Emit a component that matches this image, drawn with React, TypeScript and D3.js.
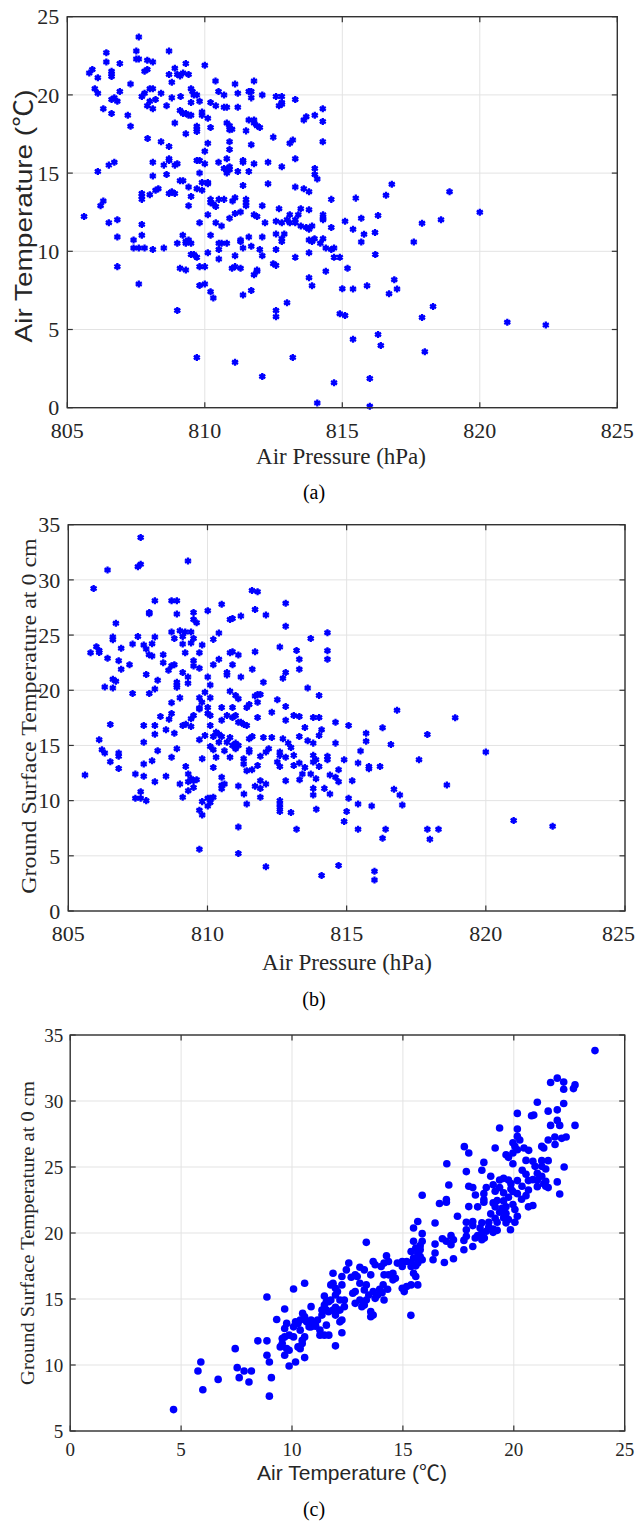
import React from 'react';
import * as d3 from 'd3';

// ---------- DATA ----------
// Panel (a): [air pressure (hPa), air temperature (°C)]
const panelAPoints: [number, number][] = [
  [807.60,23.70],[806.42,22.70],[807.51,22.81],[808.70,22.81],[806.42,22.11],[807.51,22.30],[807.60,22.30],[807.91,22.21],[808.11,22.11],[806.91,22.00],[810.00,21.89],[809.31,22.00],[805.91,21.62],[805.80,21.40],[806.61,21.51],[806.61,21.34],[806.61,21.17],[806.11,21.10],[807.81,21.51],[807.91,21.62],[808.91,21.70],[808.70,21.30],[809.00,21.30],[809.10,21.21],[809.21,21.40],[809.41,21.30],[808.80,20.81],[807.30,20.70],[810.39,20.89],[811.10,20.70],[811.79,20.89],[806.00,20.40],[806.11,20.11],[806.91,20.21],[808.00,20.40],[808.11,20.40],[807.71,19.89],[807.81,20.11],[808.41,20.11],[809.50,20.40],[809.55,20.21],[809.60,20.00],[809.71,20.00],[809.12,19.89],[808.80,19.81],[810.50,20.21],[810.70,20.00],[811.20,20.11],[811.60,20.21],[811.69,20.21],[811.69,19.81],[812.09,20.00],[812.59,19.89],[812.80,19.89],[812.80,19.51],[812.70,19.30],[812.80,19.40],[813.29,19.70],[806.61,19.70],[806.71,19.81],[806.82,19.60],[808.00,19.60],[808.21,19.70],[807.91,19.30],[808.11,19.11],[806.31,19.11],[806.61,18.81],[807.20,18.70],[808.61,19.30],[809.50,19.51],[809.81,19.60],[810.21,19.51],[810.40,19.30],[810.70,19.21],[810.80,19.21],[811.20,19.21],[809.10,19.00],[809.21,18.81],[809.31,18.81],[809.41,18.70],[809.50,18.70],[809.90,18.91],[809.90,18.70],[810.11,18.51],[807.30,18.00],[808.91,18.21],[809.71,18.00],[809.71,17.81],[809.71,17.66],[810.21,17.91],[810.80,18.21],[810.90,18.02],[810.99,17.81],[810.90,17.77],[811.60,18.40],[811.79,18.40],[811.79,18.21],[811.90,18.02],[812.00,17.91],[811.50,17.70],[809.31,17.51],[807.92,17.21],[808.41,17.00],[808.70,16.70],[810.11,16.91],[810.00,16.40],[810.90,17.00],[810.90,16.51],[811.69,16.81],[812.49,17.30],[813.09,16.91],[813.20,17.11],[813.60,18.40],[813.69,18.60],[814.00,18.70],[814.29,19.11],[814.29,18.30],[814.29,17.00],[813.29,15.91],[812.80,15.40],[812.30,15.70],[811.79,15.60],[811.39,15.81],[811.39,15.70],[810.80,15.91],[810.90,15.40],[810.80,15.21],[810.80,15.00],[810.70,15.30],[810.90,15.21],[810.50,15.70],[811.20,15.11],[811.60,15.11],[809.71,15.81],[809.81,15.81],[810.00,15.60],[809.81,15.00],[808.70,15.91],[808.70,15.81],[808.91,15.51],[809.00,15.60],[808.51,15.51],[808.61,14.91],[808.11,15.70],[808.11,14.81],[806.11,15.11],[806.51,15.51],[806.71,15.70],[814.00,15.30],[814.00,14.91],[814.09,14.62],[813.29,14.11],[813.60,14.00],[813.79,13.81],[814.60,13.32],[812.30,14.32],[811.39,14.21],[809.10,14.51],[809.21,14.51],[809.41,14.11],[809.50,13.51],[809.71,14.00],[809.90,13.91],[809.90,14.40],[810.11,14.32],[810.11,14.40],[808.21,13.91],[808.31,14.00],[808.00,13.62],[807.71,13.70],[807.71,13.51],[807.71,13.32],[808.70,13.70],[808.80,13.81],[808.91,13.70],[806.31,13.21],[806.21,12.91],[809.41,12.91],[810.21,13.32],[810.21,13.11],[810.31,13.02],[810.40,12.87],[810.51,13.32],[810.70,13.32],[811.01,13.21],[811.10,13.43],[811.50,13.32],[811.50,13.11],[811.50,12.91],[812.09,12.91],[812.70,12.72],[813.49,12.72],[813.79,12.66],
  [805.61,12.22],[806.51,11.82],[806.82,12.01],[806.82,10.92],[807.71,11.71],[807.71,11.03],[807.41,10.73],[807.41,10.21],[807.60,10.21],[807.81,10.21],[808.11,10.11],[808.51,10.21],[806.82,9.02],[807.60,7.91],[809.00,10.51],[809.20,11.03],[809.31,10.62],[809.41,10.73],[809.50,10.51],[809.31,10.51],[809.81,11.82],[809.50,9.80],[809.60,9.80],[809.71,9.62],[809.10,8.91],[809.31,8.80],[809.81,9.02],[810.00,9.02],[809.81,7.82],[810.00,7.91],[809.00,6.22],[810.11,9.91],[810.11,12.33],[810.21,11.03],[810.40,11.82],[810.61,11.62],[810.51,10.51],[810.61,10.51],[810.80,10.51],[810.51,10.11],[810.51,9.51],[810.90,12.12],[811.10,12.41],[811.30,12.52],[811.10,9.72],[811.30,10.73],[811.30,10.62],[811.39,10.21],[811.60,10.92],[811.69,10.32],[810.99,8.91],[811.10,9.02],[811.30,8.91],[810.21,7.41],[810.31,7.01],[811.39,7.20],[811.69,7.50],[811.79,12.33],[811.90,12.22],[812.19,11.82],[812.09,10.92],[812.00,10.11],[812.09,9.72],[811.90,8.80],[811.90,8.72],[811.79,8.50],[812.49,9.21],[812.59,9.10],[812.59,11.11],[812.59,10.11],[812.59,11.92],[812.80,11.82],[812.89,11.11],[812.80,10.81],[812.80,10.62],[813.09,12.33],[813.09,11.82],[812.99,12.01],[813.29,12.01],[813.29,11.82],[813.40,12.33],[813.49,11.62],[813.69,11.52],[813.79,11.41],[813.90,11.62],[813.29,9.62],[812.99,6.71],[812.59,6.22],[812.59,5.81],[813.79,10.73],[813.90,10.62],[813.99,10.81],[813.79,9.91],[814.20,10.51],[814.30,10.81],[813.79,8.31],[813.90,7.80],[814.30,12.33],[814.30,12.12],[814.30,12.01],[814.60,11.52],[814.40,10.21],[814.60,10.11],[814.70,10.21],[814.70,9.62],[814.91,9.62],[814.40,8.72],[815.00,7.61],[814.91,6.00],[815.10,5.90],[815.10,11.92],[815.19,8.91],[809.71,3.21],[811.10,2.91],[812.09,1.99],[813.20,3.21],[814.70,1.60],[814.09,0.30],
  [816.80,14.29],[816.59,13.59],[815.49,13.40],[818.90,13.80],[820.00,12.50],[815.69,12.12],[816.30,12.29],[815.39,11.41],[815.79,11.09],[816.19,11.20],[815.69,10.60],[817.60,10.60],[817.90,11.79],[818.59,12.01],[816.20,9.79],[815.39,7.59],[815.90,7.80],[816.89,8.18],[816.99,7.59],[816.70,7.29],[818.30,6.47],[817.90,5.77],[821.00,5.47],[822.40,5.28],[815.39,4.38],[816.30,4.68],[816.40,3.97],[818.00,3.57],[816.00,1.86],[816.00,0.09]
];

// Panel (b): [air pressure (hPa), ground surface temperature at 0 cm (°C)]
const panelBPoints: [number, number][] = [
  [807.60,33.83],[809.30,31.72],[807.50,31.20],[807.60,31.42],[806.41,30.90],[805.91,29.22],[808.11,28.10],[808.71,28.10],[808.90,28.10],[807.91,27.05],[807.91,26.93],[808.90,26.90],[809.50,27.05],[809.50,26.42],[809.61,26.11],[810.01,27.20],[810.51,27.80],[810.81,26.42],[810.90,26.51],[811.20,26.72],[811.60,29.04],[811.80,28.92],[811.71,27.32],[812.10,26.81],[812.81,27.89],[812.81,25.81],[813.71,24.70],[814.31,25.21],[814.31,23.58],[814.31,22.80],[806.71,26.08],[806.60,24.82],[806.60,24.58],[806.01,23.95],[806.11,23.61],[806.11,23.43],[805.80,23.40],[806.90,23.80],[806.41,22.89],[806.81,22.68],[806.90,21.90],[807.20,22.32],[807.31,24.19],[807.50,24.88],[807.71,24.10],[807.80,23.73],[808.01,24.22],[808.11,24.82],[807.90,23.22],[808.01,23.10],[808.41,23.22],[808.71,25.27],[808.81,24.70],[809.01,25.39],[809.11,24.88],[809.20,25.27],[809.41,25.27],[809.11,24.19],[809.41,24.28],[809.50,24.70],[809.81,24.10],[809.20,23.40],[809.71,23.40],[808.41,22.50],[808.71,22.23],[808.81,22.32],[808.60,21.81],[809.50,22.68],[809.50,22.20],[809.71,21.99],[807.80,21.42],[808.21,20.90],[809.11,21.60],[809.30,21.20],[809.30,20.63],[808.90,20.72],[808.90,20.45],[808.90,20.27],[810.01,21.20],[810.21,24.61],[810.41,25.18],[810.81,23.40],[810.90,23.49],[811.11,23.19],[811.71,23.49],[810.41,22.80],[810.21,22.32],[810.90,22.32],[810.70,21.60],[810.70,21.39],[811.20,21.20],[811.61,21.90],[812.60,23.92],[813.20,23.61],[813.30,22.80],[813.30,21.90],[812.81,21.60],[812.71,21.08],[812.01,20.72],[810.10,20.48],[806.31,20.30],[806.60,20.21],[806.60,20.99],[806.71,20.81],[807.31,19.70],[807.91,19.70],[808.11,20.12],[808.71,18.86],[809.01,19.31],[809.71,19.31],[809.80,18.92],[810.10,19.31],[809.91,19.82],[810.81,19.91],[811.01,19.52],[811.11,19.22],[811.41,18.43],[811.50,18.70],[811.71,19.49],[811.80,19.61],[811.90,19.61],[811.80,18.92],[812.51,19.13],[813.60,20.21],[814.01,19.52],[812.81,18.52],[809.71,18.40],[810.01,18.43],[810.51,18.43],[810.90,18.43],
  [808.31,17.62],[808.62,17.38],[808.71,17.89],[808.11,16.81],[808.11,16.02],[807.71,16.81],[807.71,15.30],[806.51,16.90],[806.11,15.51],[806.21,14.61],[806.31,14.31],[806.81,14.31],[806.81,14.01],[806.51,13.52],[806.81,12.92],[805.60,12.32],[808.51,16.42],[808.81,16.11],[808.21,14.52],[808.01,13.61],[807.71,13.31],[807.41,12.41],[807.71,12.20],[808.11,11.72],[808.51,12.20],[807.60,10.81],[807.41,10.21],[807.60,10.21],[807.80,10.00],[809.11,16.81],[809.22,16.93],[809.41,16.72],[809.41,17.41],[809.50,17.71],[809.71,18.31],[809.71,15.51],[809.81,13.80],[808.71,13.92],[808.90,14.70],[809.22,13.10],[809.31,12.41],[809.31,11.72],[809.01,11.51],[809.41,11.99],[809.50,11.81],[809.61,11.90],[809.50,11.20],[809.31,10.90],[809.11,10.30],[809.71,9.13],[809.81,8.70],[809.81,9.91],[810.01,10.21],[810.10,10.21],[810.21,10.30],[810.01,9.52],[810.10,9.82],[809.71,5.60],[810.01,17.89],[810.10,17.71],[809.91,15.90],[810.10,16.81],[810.21,15.81],[810.31,16.20],[810.41,16.02],[810.51,15.81],[810.41,15.30],[810.10,14.91],[810.21,14.61],[810.31,13.92],[810.21,13.01],[810.51,17.29],[810.70,17.71],[810.90,17.53],[811.01,17.71],[810.70,15.30],[810.81,15.72],[810.90,15.00],[811.01,15.21],[811.11,15.00],[811.01,14.70],[810.61,14.52],[810.81,13.92],[810.51,12.11],[810.51,11.39],[810.51,11.08],[810.61,11.51],[811.11,17.11],[811.20,17.11],[811.31,16.90],[811.41,16.81],[811.80,17.53],[811.30,13.80],[811.30,13.31],[811.41,12.71],[811.50,14.61],[811.50,14.40],[811.50,15.60],[811.61,15.81],[811.60,12.80],[811.80,13.19],[811.90,14.01],[812.01,15.72],[812.31,15.72],[812.10,14.40],[812.20,14.70],[812.31,18.01],[812.51,13.49],[812.60,13.10],[812.60,14.40],[812.60,14.10],[812.71,15.60],[812.81,13.92],[812.90,15.21],[813.00,14.82],[812.81,17.29],[813.10,17.71],[813.30,17.62],[813.50,16.63],[813.30,15.81],[813.60,15.42],[813.80,15.21],[813.80,17.53],[814.01,17.53],[814.10,16.42],[814.01,15.90],[814.60,17.11],[814.60,15.21],[815.07,16.81],[813.10,14.10],[813.10,13.19],[813.30,13.40],[813.41,12.41],[813.50,13.01],[813.71,12.41],[813.80,14.10],[813.90,13.70],[813.80,13.49],[814.01,13.10],[814.31,14.01],[814.31,13.70],[813.90,11.99],[813.31,11.90],[812.81,11.81],[814.40,12.32],[814.60,12.11],[814.71,11.72],[814.71,12.80],[814.91,13.70],[813.80,11.11],[813.80,10.51],[814.20,11.11],[814.40,10.60],[811.90,11.81],[811.71,11.30],[811.90,11.11],[812.10,11.51],[811.31,10.60],[811.90,10.30],[811.41,9.70],[811.11,11.33],[812.60,10.00],[812.60,9.70],[812.60,9.40],[812.60,9.01],[813.00,8.92],[813.91,9.22],[811.11,7.62],[813.20,7.41],[815.07,10.21],[815.00,9.01],[814.91,8.10],[811.11,5.21],[812.10,4.01],[814.10,3.22],[814.71,4.13],
  [816.81,18.19],[818.90,17.50],[816.29,16.60],[815.70,16.11],[815.70,15.39],[817.90,15.99],[816.59,15.09],[815.50,14.49],[820.00,14.40],[815.41,13.40],[815.80,13.10],[815.80,12.89],[816.20,13.10],[817.60,13.70],[815.20,11.81],[816.70,11.02],[816.91,10.51],[817.00,9.61],[818.60,11.42],[815.41,9.70],[815.90,9.52],[815.41,7.41],[816.40,7.41],[816.29,6.60],[817.90,7.41],[818.30,7.41],[817.99,6.51],[821.00,8.19],[822.40,7.68],[816.00,3.61],[816.00,2.80]
];

// Panel (c): [air temperature (°C), ground surface temperature at 0 cm (°C)]
const panelCPoints: [number, number][] = [
  [23.66,33.82],[21.66,31.40],[21.96,31.73],[22.25,31.43],[22.25,30.89],[22.69,30.94],[22.76,31.22],[21.06,29.91],[21.55,29.23],[21.96,29.33],[22.25,29.81],[20.90,28.93],[20.80,28.88],[20.16,29.06],[21.66,28.15],[21.96,28.53],[22.07,28.15],[22.76,28.15],[20.16,27.87],[20.16,27.32],[19.36,27.95],[21.55,27.04],[21.85,27.27],[22.16,27.17],[21.86,26.71],[22.36,27.27],[19.96,26.84],[20.05,26.56],[20.27,27.04],[20.16,26.31],[19.96,26.06],[20.67,26.26],[20.46,26.44],[21.26,26.56],[21.35,26.44],[19.16,26.44],[17.77,26.54],[17.97,26.06],[19.76,25.73],[19.65,25.93],[18.65,25.35],[16.98,25.25],[19.96,25.25],[20.55,25.50],[20.86,25.43],[21.26,25.48],[21.55,25.48],[20.96,25.05],[21.26,25.05],[21.44,24.85],[21.06,24.52],[20.38,24.75],[20.55,24.45],[22.27,25.00],[18.56,24.75],[17.86,24.65],[21.26,24.30],[21.44,23.92],[19.54,24.14],[19.76,24.02],[19.36,24.02],[18.96,24.30],[20.16,23.97],[19.87,23.74],[20.37,23.54],[20.66,23.97],[20.86,24.04],[21.06,24.02],[21.96,23.87],[21.35,23.74],[21.06,23.51],[21.44,23.54],[21.55,23.44],[19.07,23.66],[19.36,23.44],[19.16,23.16],[17.97,23.54],[18.15,23.44],[18.76,23.44],[17.07,23.64],[22.07,22.96],[20.66,23.26],[20.55,22.83],[20.16,22.98],[19.87,23.34],[19.96,23.14],[18.27,22.88],[18.65,22.98],[19.54,23.04],[19.76,22.71],[20.35,22.56],[15.87,22.86],[16.96,22.53],[16.96,22.33],[16.65,22.23],[17.97,22.00],[18.37,21.98],[18.65,22.33],[18.65,22.53],[19.07,22.28],[19.25,22.46],[19.54,22.43],[19.16,21.98],[19.47,21.88],[19.65,21.98],[19.96,22.15],[20.05,21.78],[20.66,21.98],[20.86,22.08],[19.36,21.57],[19.65,21.47],[18.96,21.45],[17.46,21.27],[15.67,20.87],[17.86,20.82],[18.15,20.87],[18.56,20.77],[18.87,20.82],[19.76,21.02],[20.16,21.27],[20.05,20.82],[19.16,21.12],[19.54,21.15],[19.25,20.82],[19.65,20.77],
  [16.45,20.76],[15.48,20.38],[15.87,19.95],[17.86,20.25],[18.15,20.56],[18.48,20.38],[18.87,20.46],[19.25,20.20],[19.85,20.25],[17.86,19.75],[18.56,20.00],[18.76,20.13],[19.07,20.30],[19.07,20.05],[18.26,19.62],[18.37,19.80],[18.56,19.49],[18.67,19.62],[17.75,19.44],[17.75,18.73],[18.15,18.98],[16.78,19.57],[16.96,19.37],[17.17,19.80],[17.28,19.49],[17.17,19.11],[17.28,18.05],[16.87,17.77],[16.45,19.16],[16.45,18.48],[16.36,17.97],[15.48,19.37],[15.58,18.86],[15.78,19.04],[15.78,18.73],[15.87,19.37],[15.67,18.48],[15.37,18.60],[15.48,18.10],[15.78,18.22],[15.78,17.97],[15.87,17.97],[15.67,17.72],[15.37,17.77],[15.58,17.51],[15.37,17.46],[15.17,17.84],[14.97,17.84],[15.48,16.95],[15.58,16.70],[15.67,16.07],[15.37,16.07],[15.17,15.94],[14.97,15.81],[15.06,15.56],[15.36,13.76],[14.75,17.72],[14.97,17.46],[14.55,16.95],[14.66,16.57],[14.55,16.45],[14.35,16.83],[14.15,16.83],[14.26,18.27],[14.35,17.84],[14.15,17.72],[14.02,17.46],[13.75,17.59],[13.66,17.84],[14.11,16.07],[14.31,15.74],[14.15,14.92],[13.66,15.56],[13.86,15.30],[13.75,15.05],[13.95,15.74],[14.06,15.48],[13.55,16.83],[13.35,16.07],[13.35,19.29],[13.06,17.41],[13.26,17.21],[13.06,16.19],[13.06,14.92],[13.26,15.69],[13.46,15.30],[13.35,14.92],[13.15,14.42],[13.26,14.54],[13.55,14.04],[13.66,13.78],[13.55,13.65],[12.85,14.67],[12.85,15.56],[12.74,15.43],[12.94,16.70],[12.85,16.83],[12.56,17.72],[12.45,17.21],[12.67,16.65],[12.25,16.70],[12.25,16.07],[12.36,14.92],[12.36,14.42],[12.16,14.16],[12.16,14.92],[12.25,13.40],[12.25,12.44],[11.85,16.95],[11.85,16.19],[11.96,15.81],[11.96,15.30],[11.75,16.07],[12.05,15.56],[11.75,14.92],[11.65,14.80],[11.96,14.37],[12.05,14.16],[11.85,14.16],[11.96,13.78],[12.16,13.27],[11.65,14.04],[11.46,15.23],[11.46,14.54],[11.55,14.80],[11.35,14.16],[11.55,14.16],[11.35,13.78],[11.15,13.40],[11.26,12.64],[11.06,13.02],[11.55,13.02],[11.66,12.26],[11.96,11.45],[11.46,12.26],[11.26,12.26],[10.86,14.42],[10.86,13.40],[10.95,13.15],[11.06,12.94],[10.57,16.19],[10.48,13.91],[10.57,13.65],[10.37,13.40],[10.66,13.27],[10.77,12.89],[10.86,12.89],[10.07,15.76],[10.16,13.27],[10.27,13.15],[10.37,12.64],[10.46,11.88],[10.57,12.13],[10.46,11.62],[10.27,11.37],[10.37,11.24],[10.57,10.56],[10.16,10.23],[10.07,12.13],[10.07,12.89],[9.76,13.15],[9.67,12.77],[9.87,12.26],[9.67,12.13],[9.67,14.24],[9.31,13.45],[9.56,12.00],[9.56,11.62],[9.47,11.37],[9.76,11.24],[9.87,11.12],[9.67,10.74],[9.87,9.92],[8.87,15.15],[8.46,11.83],[8.87,11.83],[8.87,10.74],[8.98,10.23],[9.07,9.04],[8.98,7.64],[7.44,11.24],[7.53,9.80],[7.84,9.54],[8.17,9.54],[7.62,9.04],[8.06,8.71],[6.67,8.91],[5.89,10.23],[5.76,9.54],[5.98,8.12],[4.66,6.62]
];

const pressureTicks = [805, 810, 815, 820, 825];
const airTempTicksA = [0, 5, 10, 15, 20, 25];
const groundTicksB = [0, 5, 10, 15, 20, 25, 30, 35];
const airTempTicksC = [0, 5, 10, 15, 20, 25];
const groundTicksC = [5, 10, 15, 20, 25, 30, 35];

const SERIF = 'Liberation Serif, DejaVu Serif, serif';
const SANS = 'Liberation Sans, Arial, sans-serif';
const CJK = 'Noto Sans CJK SC, sans-serif';
const BLUE = '#0000ff';
const PAGE_W = 636;

type PanelProps = {
  box: { left: number; right: number; top: number; bottom: number };
  xDomain: [number, number];
  yDomain: [number, number];
  xTicks: number[];
  yTicks: number[];
  points: [number, number][];
  marker: 'star' | 'dot';
  tickSize: number;
  xTickOffset: number;
  yTickGap: number;
};

function Panel({ box, xDomain, yDomain, xTicks, yTicks, points, marker, tickSize, xTickOffset, yTickGap }: PanelProps) {
  const x = d3.scaleLinear().domain(xDomain).range([box.left, box.right]);
  const y = d3.scaleLinear().domain(yDomain).range([box.bottom, box.top]);
  const tl = 5.5;
  const star = d3.symbol().type(d3.symbolAsterisk).size(34)() as string;
  const axisColor = '#333';
  return (
    <g>
      <rect x={box.left} y={box.top} width={box.right - box.left} height={box.bottom - box.top} fill="#fff" />
      {xTicks.map((t) => (
        <line key={'gx' + t} x1={x(t)} x2={x(t)} y1={box.top} y2={box.bottom} stroke="#e3e3e3" strokeWidth={1} />
      ))}
      {yTicks.map((t) => (
        <line key={'gy' + t} x1={box.left} x2={box.right} y1={y(t)} y2={y(t)} stroke="#e3e3e3" strokeWidth={1} />
      ))}
      {points.map((p, i) =>
        marker === 'star' ? (
          <g key={i} transform={`translate(${x(p[0])},${y(p[1])})`}>
            <circle r={2.3} fill={BLUE} />
            <path d={star} stroke={BLUE} strokeWidth={2.3} fill={BLUE} />
          </g>
        ) : (
          <circle key={i} cx={x(p[0])} cy={y(p[1])} r={3.8} fill={BLUE} />
        )
      )}
      <rect x={box.left} y={box.top} width={box.right - box.left} height={box.bottom - box.top} fill="none" stroke={axisColor} strokeWidth={1.4} />
      {xTicks.map((t) => {
        const half = (String(t).length * tickSize * 0.5) / 2;
        const cx = Math.min(x(t), PAGE_W - half - 1);
        return (
          <g key={'tx' + t}>
            <line x1={x(t)} x2={x(t)} y1={box.bottom} y2={box.bottom - tl} stroke={axisColor} strokeWidth={1.2} />
            <line x1={x(t)} x2={x(t)} y1={box.top} y2={box.top + tl} stroke={axisColor} strokeWidth={1.2} />
            <text x={cx} y={box.bottom + xTickOffset} textAnchor="middle" fontFamily={SERIF} fontSize={tickSize} fill="#262626">
              {t}
            </text>
          </g>
        );
      })}
      {yTicks.map((t) => (
        <g key={'ty' + t}>
          <line x1={box.left} x2={box.left + tl} y1={y(t)} y2={y(t)} stroke={axisColor} strokeWidth={1.2} />
          <line x1={box.right} x2={box.right - tl} y1={y(t)} y2={y(t)} stroke={axisColor} strokeWidth={1.2} />
          <text x={box.left - yTickGap} y={y(t)} dy="0.35em" textAnchor="end" fontFamily={SERIF} fontSize={tickSize} fill="#262626">
            {t}
          </text>
        </g>
      ))}
    </g>
  );
}

function VLabel({ x, y, children, font, size, squeeze }: { x: number; y: number; children: React.ReactNode; font: string; size: number; squeeze: number }) {
  return (
    <text
      transform={`translate(${x},${y}) rotate(-90) scale(1,${squeeze})`}
      textAnchor="middle"
      dy="0.35em"
      fontFamily={font}
      fontSize={size}
      fill="#262626"
    >
      {children}
    </text>
  );
}

export default function App() {
  const boxA = { left: 67.3, right: 617.3, top: 16.7, bottom: 407.7 };
  const boxB = { left: 68.3, right: 625, top: 524.7, bottom: 911 };
  const boxC = { left: 70.2, right: 624.7, top: 1035, bottom: 1431 };
  return (
    <svg width={636} height={1521} style={{ position: 'absolute', left: 0, top: 0, background: '#fff' }}>
      <rect width={636} height={1521} fill="#fff" />
      {/* (a) */}
      <Panel box={boxA} xDomain={[805, 825]} yDomain={[0, 25]} xTicks={pressureTicks} yTicks={airTempTicksA} points={panelAPoints} marker="star" tickSize={22} xTickOffset={30} yTickGap={8} />
      <VLabel x={23} y={216} font={SANS} size={28} squeeze={0.88}>
        Air Temperature (<tspan fontFamily={CJK}>℃</tspan>)
      </VLabel>
      <text x={341} y={464} textAnchor="middle" fontFamily={SERIF} fontSize={23} fill="#262626">Air Pressure (hPa)</text>
      <text x={314} y={499} textAnchor="middle" fontFamily={SERIF} fontSize={20} fill="#000">(a)</text>

      {/* (b) */}
      <Panel box={boxB} xDomain={[805, 825]} yDomain={[0, 35]} xTicks={pressureTicks} yTicks={groundTicksB} points={panelBPoints} marker="star" tickSize={22} xTickOffset={30} yTickGap={8} />
      <VLabel x={29} y={716} font={SERIF} size={24} squeeze={0.88}>
        Ground Surface Temperature at 0 cm
      </VLabel>
      <text x={347} y={970} textAnchor="middle" fontFamily={SERIF} fontSize={23} fill="#262626">Air Pressure (hPa)</text>
      <text x={314} y={1006} textAnchor="middle" fontFamily={SERIF} fontSize={20} fill="#000">(b)</text>

      {/* (c) */}
      <Panel box={boxC} xDomain={[0, 25]} yDomain={[5, 35]} xTicks={airTempTicksC} yTicks={groundTicksC} points={panelCPoints} marker="dot" tickSize={19} xTickOffset={25} yTickGap={7} />
      <VLabel x={28} y={1233} font={SERIF} size={20.5} squeeze={0.9}>
        Ground Surface Temperature at 0 cm
      </VLabel>
      <text x={352} y={1480} textAnchor="middle" fontFamily={SANS} fontSize={21} fill="#262626">
        Air Temperature (<tspan fontFamily={CJK}>℃</tspan>)
      </text>
      <text x={314} y={1516} textAnchor="middle" fontFamily={SERIF} fontSize={20} fill="#000">(c)</text>
    </svg>
  );
}
